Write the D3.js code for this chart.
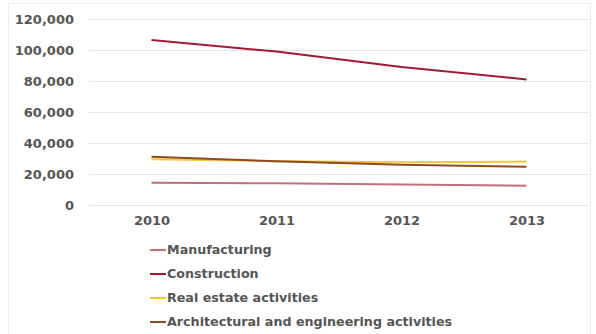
<!DOCTYPE html>
<html>
<head>
<meta charset="utf-8">
<script src="https://cdn.jsdelivr.net/npm/d3@7"></script>
<style>
  body { margin: 0; background: #fff; }
  text { font-family: "DejaVu Sans", Verdana, sans-serif; font-weight: bold; fill: #555; }
</style>
</head>
<body>
<div id="chart"></div>
<script>
const width = 596;
const height = 334;

const years = ["2010", "2011", "2012", "2013"];
const manufacturing = [14400, 14000, 13300, 12400];
const construction = [106500, 99000, 89000, 81000];
const realEstate = [29500, 28300, 27600, 28000];
const architectural = [31200, 28200, 26000, 24700];

const seriesNames = ["Manufacturing", "Construction", "Real estate activities", "Architectural and engineering activities"];
const seriesValues = [manufacturing, construction, realEstate, architectural];
const seriesColors = ["#c27078", "#a11a30", "#f2c53d", "#8e4a22"];
const yTicks = [0, 20000, 40000, 60000, 80000, 100000, 120000];

const svg = d3.select("#chart").append("svg")
    .attr("width", width)
    .attr("height", height);

// faint frame round the chart
svg.append("rect")
    .attr("x", 8.5).attr("y", 3.5)
    .attr("width", 582).attr("height", 340)
    .attr("fill", "none")
    .attr("stroke", "#ececec");

const x = d3.scalePoint()
    .domain(years)
    .range([89, 589])
    .padding(0.5);

const y = d3.scaleLinear()
    .domain([0, 120000])
    .range([205, 19]);

// gridlines
svg.append("g")
    .selectAll("line")
    .data(yTicks)
    .join("line")
    .attr("x1", 89)
    .attr("x2", 589)
    .attr("y1", d => Math.round(y(d)) + 0.5)
    .attr("y2", d => Math.round(y(d)) + 0.5)
    .attr("stroke", "#e6e6e6");

// y axis labels
const yAxis = svg.append("g")
    .attr("transform", "translate(80,0)")
    .call(d3.axisLeft(y).tickValues(yTicks).tickSize(0).tickPadding(6).tickFormat(d3.format(",")));
yAxis.select(".domain").remove();
yAxis.selectAll("text").attr("font-size", 13).attr("font-family", null);

// x axis labels
const xAxis = svg.append("g")
    .attr("transform", "translate(0,214)")
    .call(d3.axisBottom(x).tickSize(0).tickPadding(2));
xAxis.select(".domain").remove();
xAxis.selectAll("text").attr("font-size", 13).attr("font-family", null);

// lines
const line = d3.line()
    .x((d, i) => x(years[i]))
    .y(d => y(d));

svg.append("g")
    .attr("fill", "none")
    .attr("stroke-width", 2)
    .selectAll("path")
    .data(seriesValues)
    .join("path")
    .attr("stroke", (d, i) => seriesColors[i])
    .attr("d", line);

// legend
const legend = svg.append("g")
    .selectAll("g")
    .data(seriesNames)
    .join("g")
    .attr("transform", (d, i) => `translate(150,${250 + i * 24})`);

legend.append("line")
    .attr("x1", 0).attr("x2", 16)
    .attr("stroke-width", 2)
    .attr("stroke", (d, i) => seriesColors[i]);

legend.append("text")
    .attr("x", 17)
    .attr("dy", "0.35em")
    .attr("font-size", 12.7)
    .text(d => d);
</script>
</body>
</html>
